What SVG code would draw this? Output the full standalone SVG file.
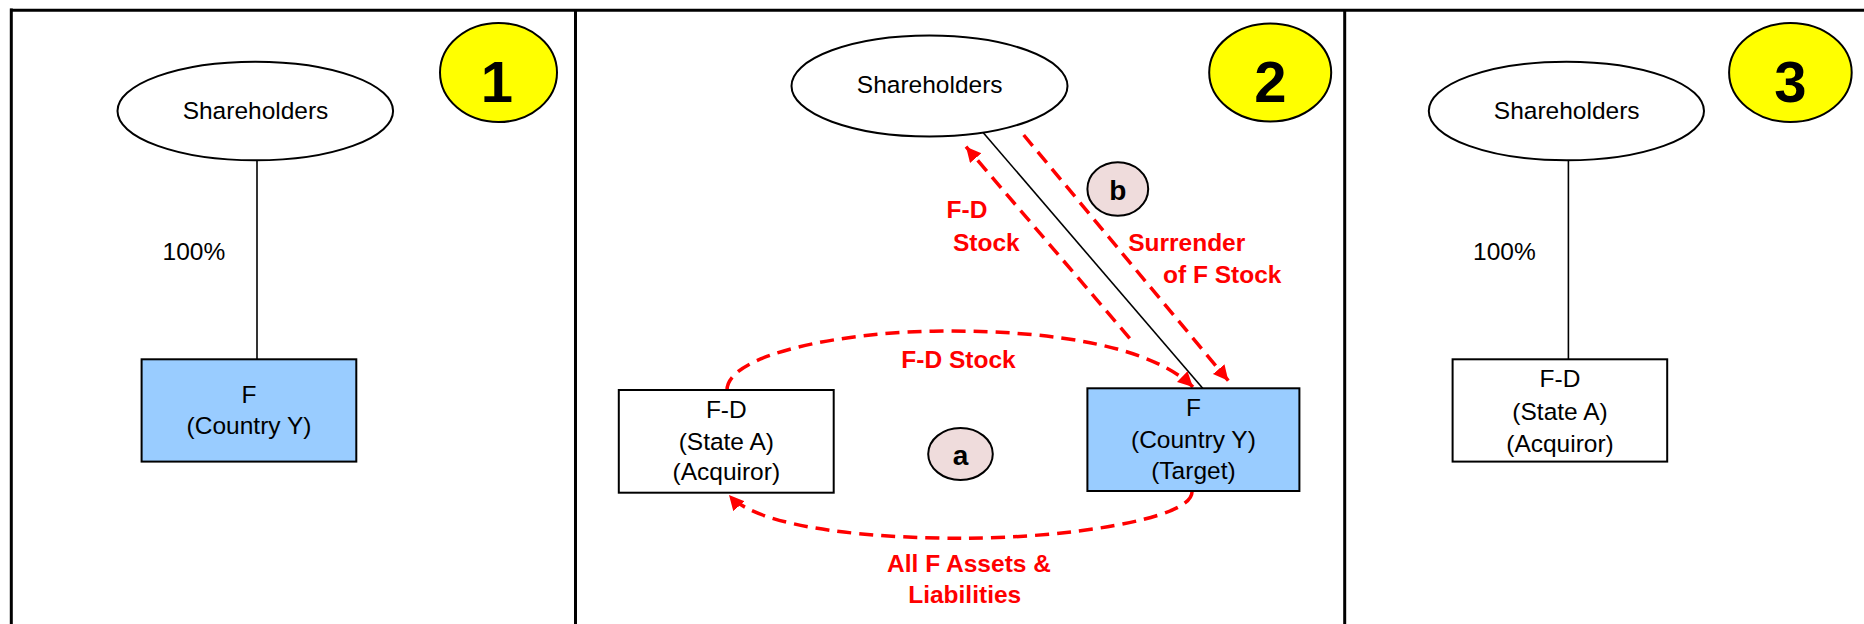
<svg xmlns="http://www.w3.org/2000/svg" width="1864" height="624" viewBox="0 0 1864 624">
<style>
.t{font-family:"Liberation Sans",Arial,sans-serif;font-size:24.5px;fill:#000;text-anchor:middle}
.tl{text-anchor:start}
.r{font-family:"Liberation Sans",Arial,sans-serif;font-size:24.5px;font-weight:bold;fill:#FF0000}
.num{font-family:"Liberation Sans",Arial,sans-serif;font-size:58px;font-weight:bold;fill:#000;text-anchor:middle}
.lab{font-family:"Liberation Sans",Arial,sans-serif;font-size:28px;font-weight:bold;fill:#000;text-anchor:middle}
.ell{fill:#fff;stroke:#000;stroke-width:2}
.yel{fill:#FFFF00;stroke:#000;stroke-width:2}
.pink{fill:#EFDCDC;stroke:#000;stroke-width:2}
.box{fill:#fff;stroke:#000;stroke-width:2}
.blue{fill:#99CCFF;stroke:#000;stroke-width:2}
.own{stroke:#000;stroke-width:1.6;fill:none}
.flow{stroke:#FF0000;stroke-width:3.5;fill:none;stroke-dasharray:14 8;marker-end:url(#ah)}
.frame{stroke:#000;stroke-width:3;fill:none}
</style>
<defs>
<marker id="ah" markerUnits="userSpaceOnUse" markerWidth="16" markerHeight="16" refX="15" refY="7.5" orient="auto">
<path d="M0,0 L15,7.5 L0,15 z" fill="#FF0000"/>
</marker>
</defs>
<rect width="1864" height="624" fill="#fff"/>
<g id="frame">
<line class="frame" x1="10" y1="10.3" x2="1864" y2="10.3"/>
<line class="frame" x1="11.3" y1="8.5" x2="11.3" y2="624"/>
<line class="frame" x1="575.5" y1="10" x2="575.5" y2="624"/>
<line class="frame" x1="1344.7" y1="10" x2="1344.7" y2="624"/>
</g>
<g id="connectors">
<line class="own" x1="257" y1="160.4" x2="257" y2="359.3"/>
<line class="own" x1="1568.4" y1="160.4" x2="1568.4" y2="359.3"/>
<line class="own" x1="983.3" y1="132.7" x2="1202.7" y2="388.3"/>
<path class="flow" d="M1129.7 338.3 L966 146.7"/>
<path class="flow" d="M1023.7 135 L1228.3 380.7"/>
<path class="flow" d="M727 390 C727 355 840 331 948 331 C1050 331 1150 345 1193 387"/>
<path class="flow" d="M1192 492 C1192 520 1060 538.3 963 538.3 C880 538.3 760 530 729 495"/>
</g>
<g id="panel1-number"><ellipse class="yel" cx="498.5" cy="72.5" rx="58.5" ry="49.5"/><text class="num" x="497" y="101.5">1</text></g>
<g id="panel1-shareholders"><ellipse class="ell" cx="255.3" cy="111" rx="137.8" ry="49.3"/><text class="t" x="255.5" y="119.4">Shareholders</text></g>
<g id="panel1-pct"><text class="t tl" x="162.6" y="259.5">100%</text></g>
<g id="panel1-F"><rect class="blue" x="141.6" y="359.3" width="214.7" height="102.3"/><text class="t" x="249" y="402.7">F</text><text class="t" x="249" y="433.7">(Country Y)</text></g>

<g id="panel2-number"><ellipse class="yel" cx="1270.2" cy="72.5" rx="61" ry="49"/><text class="num" x="1270.5" y="101.7">2</text></g>
<g id="panel2-shareholders"><ellipse class="ell" cx="929.5" cy="86" rx="138" ry="50.5"/><text class="t" x="929.7" y="93.3">Shareholders</text></g>
<g id="panel2-FD"><rect class="box" x="618.8" y="390" width="214.9" height="102.7"/><text class="t" x="726.3" y="418.3">F-D</text><text class="t" x="726.3" y="450">(State A)</text><text class="t" x="726.3" y="480">(Acquiror)</text></g>
<g id="panel2-F"><rect class="blue" x="1087.4" y="388.3" width="212" height="102.7"/><text class="t" x="1193.4" y="416">F</text><text class="t" x="1193.4" y="448.3">(Country Y)</text><text class="t" x="1193.4" y="479">(Target)</text></g>
<g id="panel2-a"><ellipse class="pink" cx="960.5" cy="454" rx="32.3" ry="26"/><text class="lab" x="960.5" y="464.5">a</text></g>
<g id="panel2-b"><ellipse class="pink" cx="1117.8" cy="189" rx="30.4" ry="26.7"/><text class="lab" x="1117.8" y="199.5">b</text></g>
<g id="panel2-labels">
<text class="r" x="946.6" y="218.3">F-D</text>
<text class="r" x="953" y="250.7">Stock</text>
<text class="r" x="1128.2" y="250.7">Surrender</text>
<text class="r" x="1163" y="282.7">of F Stock</text>
<text class="r" x="958.5" y="368.3" text-anchor="middle">F-D Stock</text>
<text class="r" x="969" y="571.7" text-anchor="middle">All F Assets &amp;</text>
<text class="r" x="964.7" y="602.7" text-anchor="middle">Liabilities</text>
</g>

<g id="panel3-number"><ellipse class="yel" cx="1790.4" cy="72.5" rx="61.3" ry="49.5"/><text class="num" x="1790.5" y="101.5">3</text></g>
<g id="panel3-shareholders"><ellipse class="ell" cx="1566.4" cy="111" rx="137.6" ry="49.3"/><text class="t" x="1566.7" y="119.4">Shareholders</text></g>
<g id="panel3-pct"><text class="t tl" x="1473" y="259.5">100%</text></g>
<g id="panel3-FD"><rect class="box" x="1452.6" y="359.3" width="214.6" height="102.3"/><text class="t" x="1560" y="386.8">F-D</text><text class="t" x="1560" y="419.8">(State A)</text><text class="t" x="1560" y="451.6">(Acquiror)</text></g>
</svg>
